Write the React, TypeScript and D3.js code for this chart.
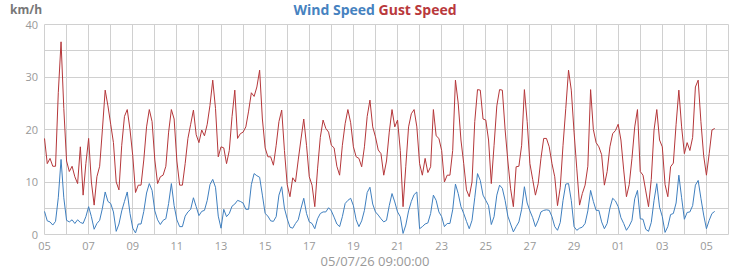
import React from "react";
import * as d3 from "d3";

const START = Date.UTC(2026, 5, 5);
const END = Date.UTC(2026, 6, 6);
const STEP_HOURS = 3;

const gustSpeed = [
  18.3, 13.5, 14.5, 13, 13, 27, 36.7, 24,
  14, 12, 13, 11, 9.7, 16.7, 7.5, 13.5,
  18.3, 10, 5.6, 11, 13, 20, 27.5, 24.5,
  21, 17.5, 10, 8.5, 17, 22.5, 23.8, 20,
  15, 8, 9.4, 9.4, 14.2, 20.5, 23.8, 21.5,
  14.2, 9.7, 11, 11.3, 13, 19.5, 23.8, 22,
  14, 9.4, 9.4, 13.5, 18.3, 21, 23.7, 19,
  17.5, 19.9, 18.8, 21, 24.6, 29.4, 24, 14.8,
  16.7, 16.5, 13.5, 16, 22.5, 27.5, 18.3, 19.2,
  19.5, 20.5, 23.5, 27, 26.3, 28.1, 31.3, 22,
  16.5, 14.8, 14.8, 13.2, 17, 21.5, 23.7, 16,
  9.5, 7.2, 10.8, 10, 14.2, 18.2, 22, 17,
  11, 9.4, 5.3, 12.5, 18.5, 21.8, 20.2, 19.5,
  17, 16.5, 13, 11.3, 17, 21.1, 23.8, 21.3,
  16.7, 14.8, 14.5, 12.9, 16.7, 22.5, 25.6, 20.5,
  18.6, 16.1, 15.4, 11.3, 14, 19.5, 23.8, 20.5,
  21.8, 16, 5.3, 13, 20.5, 23, 23.8, 20.5,
  13.5, 11.3, 14.5, 11.8, 12.9, 23.8, 18.8, 18.3,
  16, 10, 11.3, 11.3, 16, 29.4, 25, 18,
  13.5, 8.5, 7.2, 10, 21.5, 27.6, 27.5, 22,
  21.8, 18, 9.7, 17, 24.5, 27.6, 27.5, 20,
  14, 8.7, 5.3, 12.9, 13, 17, 27.6, 21.5,
  13.5, 10.5, 7.5, 9.7, 14.5, 18.3, 18.3, 16.7,
  13.5, 11, 5.5, 9, 17, 24, 31.3, 27.5,
  19.5, 12.5, 5.6, 7.8, 9.4, 13, 27.6, 20,
  17.5, 16.7, 15.2, 9.4, 12, 16.7, 19.2, 19.8,
  21, 18, 12.3, 7.2, 9.5, 14.5, 20.5, 23.8,
  12, 11.3, 8.3, 5.3, 10.5, 19.9, 23.8, 18,
  16.7, 9.5, 7.2, 12.9, 13.6, 21, 27.5, 20.5,
  15.4, 17.5, 16, 18.5, 28.1, 29.4, 21.5, 15,
  11.3, 15.4, 19.9, 20.2,
];

const windSpeed = [
  4.4, 2.6, 2.4, 1.8, 2.5, 7, 14.3, 7,
  2.7, 2.4, 2.8, 2.1, 2.8, 2.3, 2.1, 3.4,
  5.3, 3.4, 1.0, 2.1, 2.7, 5, 8.1, 6.3,
  5.9, 4.3, 0.6, 2.0, 4.5, 6.3, 8.1, 4,
  1.2, 0.3, 2.0, 2.0, 4.4, 7.9, 9.7, 8.4,
  4.5, 2.8, 1.9, 2.7, 3.0, 5.9, 9.7, 5.5,
  2.8, 1.5, 1.5, 3.5, 4.3, 4.8, 7.0, 5.3,
  3.6, 4.4, 4.6, 6.5, 9.5, 10.5, 9.0, 3.5,
  1.2, 4.8, 3.4, 4.0, 5.4, 5.8, 6.5, 6.3,
  6.0, 4.8, 4.8, 9.5, 11.6, 11.2, 10.9, 7.5,
  4.0, 3.5, 2.6, 2.5, 3.4, 7.5, 9.1, 5.0,
  3.0, 1.4, 1.2, 2.1, 2.8, 5.0, 6.9, 4.0,
  2.4, 2.1, 1.1, 3.0, 4.0, 4.3, 4.3, 5.1,
  4.5, 3.3, 2.0, 1.5, 3.4, 5.9, 6.5, 6.9,
  5.5, 2.8, 1.5, 2.6, 4.6, 8.0, 9.0, 5.8,
  4.3, 3.7, 3.0, 2.4, 2.7, 5.5, 7.8, 6.2,
  4.3, 3.4, 0.2, 1.8, 4.5, 6.3, 7.6, 8.1,
  1.1, 1.5, 2.0, 2.2, 4.0, 7.5, 6.5, 4.3,
  3.4, 1.5, 2.1, 2.1, 4.7, 9.6, 7.8, 5.3,
  4.0, 2.5, 1.1, 2.7, 7.0, 11.6, 10.3, 7.5,
  6.5, 5.5, 1.9, 3.4, 7.5, 9.4, 8.8, 6.5,
  3.5, 2.0, 0.5, 1.5, 2.4, 4.8, 9.1, 6.0,
  4.5, 3.2, 1.5, 2.7, 4.3, 4.6, 4.7, 4.6,
  3.4, 1.5, 0.8, 2.3, 6.5, 9.6, 9.7, 6.5,
  1.5, 0.8, 1.2, 1.4, 2.1, 4.5, 8.4, 6.3,
  4.6, 4.6, 2.4, 1.1, 2.1, 5.0, 6.9, 6.4,
  5.3, 3.2, 2.1, 0.8, 1.6, 2.7, 6.8, 8.4,
  3.0, 2.9, 1.0, 0.6, 2.3, 6.5, 9.7, 5.2,
  3.4, 0.4, 1.5, 3.8, 4.0, 6.0, 11.3, 7,
  2.9, 4.2, 4.3, 5.5, 9.4, 10.3, 6.9, 3.7,
  1.1, 2.7, 4.0, 4.4,
];

const yTicks = [0, 10, 20, 30, 40];
const yGrid = [0, 5, 10, 15, 20, 25, 30, 35, 40];
const titleWind = "Wind Speed";
const titleGust = "Gust Speed";
const yUnit = "km/h";
const xTitle = "05/07/26 09:00:00";

const W = 750;
const H = 270;
const FONT = "'Open Sans', 'Noto Sans', sans-serif";

export default function App() {
  const x = d3.scaleUtc().domain([new Date(START), new Date(END)]).range([44.5, 728.5]);
  const y = d3.scaleLinear().domain([0, 40]).range([234.5, 24.5]);

  const times = gustSpeed.map((_, i) => new Date(START + i * STEP_HOURS * 3600 * 1000));
  const line = d3
    .line<number>()
    .x((_, i) => x(times[i]))
    .y((v) => y(v));

  const days = d3.utcDay.range(new Date(START), new Date(END + 1));
  const fmt = d3.utcFormat("%d");
  const crisp = (v: number) => Math.round(v - 0.5) + 0.5;

  return (
    <svg width={W} height={H} style={{ display: "block", position: "absolute", left: 0, top: 0 }} fontFamily={FONT}>
      <rect x={0} y={0} width={W} height={H} fill="#fff" />
      {yGrid.map((v) => (
        <line key={"h" + v} x1={44.5} x2={728.5} y1={crisp(y(v))} y2={crisp(y(v))} stroke="#d0d0d0" strokeWidth={1} />
      ))}
      {days.map((d, i) => (
        <line key={"v" + i} x1={crisp(x(d))} x2={crisp(x(d))} y1={24.5} y2={234.5} stroke="#d0d0d0" strokeWidth={1} />
      ))}
      {yTicks.map((v) => (
        <text key={"yt" + v} x={38} y={y(v) + 4} textAnchor="end" fontSize={11} fill="#999">
          {v}
        </text>
      ))}
      {days.map((d, i) =>
        i % 2 === 0 && i < days.length - 1 ? (
          <text key={"xt" + i} x={x(d)} y={250} textAnchor="middle" fontSize={11} fill="#999">
            {fmt(d)}
          </text>
        ) : null
      )}
      <path d={line(gustSpeed) || ""} fill="none" stroke="#b5373a" strokeWidth={1} />
      <path d={line(windSpeed) || ""} fill="none" stroke="#3f7fbf" strokeWidth={1} />
      <text x={375} y={15} textAnchor="middle" fontSize={14} fontWeight="bold">
        <tspan fill="#4682c0">{titleWind}</tspan>
        <tspan fill="#b9393c"> {titleGust}</tspan>
      </text>
      <text x={10} y={14} fontSize={12} fontWeight="bold" fill="#777">
        {yUnit}
      </text>
      <text x={375} y={266} textAnchor="middle" fontSize={13} fill="#999">
        {xTitle}
      </text>
    </svg>
  );
}
